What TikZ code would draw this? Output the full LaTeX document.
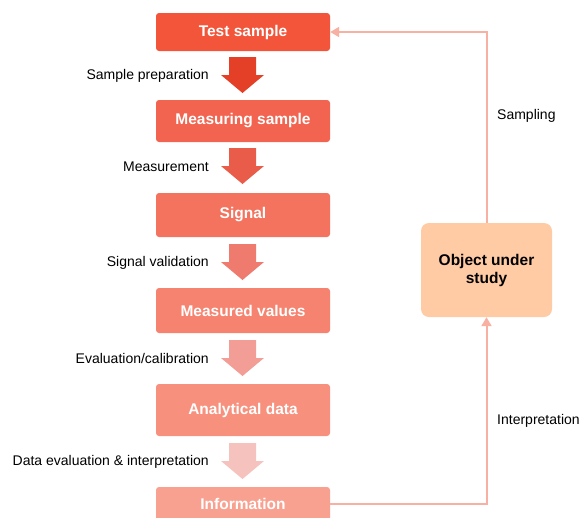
\documentclass[tikz,border=0pt]{standalone}
\usepackage{fontspec}
\setmainfont{Liberation Sans}
\usetikzlibrary{arrows.meta}
\definecolor{stepA}{HTML}{F2553A}
\definecolor{stepB}{HTML}{F26450}
\definecolor{stepC}{HTML}{F4735E}
\definecolor{stepD}{HTML}{F6836F}
\definecolor{stepE}{HTML}{F7917E}
\definecolor{stepF}{HTML}{F8A190}
\definecolor{flowA}{HTML}{E43F27}
\definecolor{flowB}{HTML}{E95C4A}
\definecolor{flowC}{HTML}{EE7B6E}
\definecolor{flowD}{HTML}{F29D96}
\definecolor{flowE}{HTML}{F6C2BD}
\definecolor{objfill}{HTML}{FFCBA4}
\definecolor{loopline}{HTML}{F8B0A2}
\tikzset{
  stepbox/.style={rectangle, rounded corners=3pt, minimum width=174pt,
                  inner sep=0pt, text=white, font=\bfseries\fontsize{15.5}{18}\selectfont},
  objbox/.style={rectangle, rounded corners=8pt, fill=objfill,
                 minimum width=131pt, minimum height=94pt, align=center,
                 font=\bfseries\fontsize{15.5}{18}\selectfont},
  steplabel/.style={anchor=east, inner sep=0pt, font=\fontsize{14}{16}\selectfont},
  looplabel/.style={anchor=west, inner sep=0pt, font=\fontsize{14}{16}\selectfont},
  loopedge/.style={draw=loopline, line width=2pt,
                   -{Triangle[width=10pt, length=9pt]}}
}

\begin{document}
\begin{tikzpicture}[x=1pt, y=-1pt]
  \useasboundingbox (0,0) rectangle (581,517);
  % name/centre y/height/colour/text
  \foreach \n/\y/\h/\c/\t in {%
      test/32/38/stepA/Test sample, meas/121/42/stepB/Measuring sample,
      sig/215/44/stepC/Signal, vals/310.5/45/stepD/Measured values,
      anal/410/52/stepE/Analytical data, info/504/34/stepF/Information}
    { \node[stepbox, fill=\c, minimum height=\h pt] (\n) at (243, \y) {\t}; }
  % block arrows between the steps: top of shaft/colour/label
  \foreach \y/\c/\t in {%
      57/flowA/Sample preparation, 148/flowB/Measurement,
      244/flowC/Signal validation, 340/flowD/{Evaluation/calibration},
      443/flowE/Data evaluation \& interpretation}
    { \fill[\c] (229, \y) -- ++(27, 0) -- ++(0, 18) -- ++(8, 0)
        -- (242.5, \y+36) -- (221, \y+18) -- ++(8, 0) -- cycle;
      \node[steplabel] at (209, \y+18.5) {\t}; }
  % the object and the loop round it
  \node[objbox] (obj) at (486.5, 270) {Object under\\study};
  \coordinate (up) at (obj.north |- test.east);
  \coordinate (down) at (obj.south |- info.east);
  \draw[loopedge] (obj.north) -- (up) -- (test.east);
  \draw[loopedge] (info.east) -- (down) -- (obj.south);
  \node[looplabel] at (497, 116) {Sampling};
  \node[looplabel] at (497, 421) {Interpretation};
\end{tikzpicture}
\end{document}
